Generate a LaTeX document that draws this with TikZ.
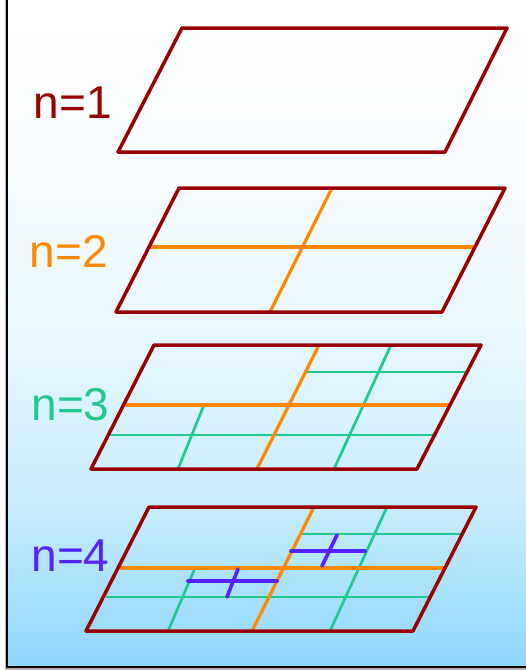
\documentclass[tikz,border=0pt]{standalone}
\usepackage{fontspec}
\setmainfont{Liberation Sans}
\definecolor{frameRed}{RGB}{153,0,0}
\definecolor{gridOrange}{RGB}{255,136,0}
\definecolor{gridGreen}{RGB}{34,200,143}
\definecolor{gridBlue}{RGB}{85,34,255}
\pgfdeclareverticalshading{bgshade}{100bp}{rgb(0bp)=(0.56,0.84,0.98); rgb(25bp)=(0.56,0.84,0.98); rgb(37.5bp)=(0.79,0.93,0.99); rgb(50bp)=(0.91,0.97,0.995); rgb(62.5bp)=(0.975,0.99,1); rgb(75bp)=(1,1,1); rgb(100bp)=(1,1,1)}
\tikzset{
  outline/.style={draw=frameRed, line width=3.5pt, line join=round, line cap=round},
  orangeline/.style={draw=gridOrange, line width=3.2pt},
  greenline/.style={draw=gridGreen, line width=2.7pt},
  blueline/.style={draw=gridBlue, line width=3.6pt, line cap=round},
  lab/.style={font=\fontsize{46}{50}\selectfont, inner sep=0pt}
}
\begin{document}
\begin{tikzpicture}[x=1pt, y=-1pt]
\useasboundingbox (0,0) rectangle (526,670);
% background
\fill[white] (0,0) rectangle (526,670);
\shade[shading=bgshade] (7,0) rectangle (526,667);
\draw[gray!60, line width=1.2pt] (5.2,-10) -- (5.2,669) -- (540,669);
\draw[black, line width=1.2pt] (7,-10) -- (7,667) -- (540,667);

% ---------- n=1 ----------
\coordinate (a1) at (182,28);
\coordinate (b1) at (507,28);
\coordinate (c1) at (445,152);
\coordinate (d1) at (118,152);
\draw[outline] (a1) -- (b1) -- (c1) -- (d1) -- cycle;
\node[lab, text=frameRed] (l1) at (73,102.5) {n=1};

% ---------- n=2 ----------
\coordinate (a2) at (179,188);
\coordinate (b2) at (505,188);
\coordinate (c2) at (442,312);
\coordinate (d2) at (116,312);
\coordinate (h2l) at (150,247);
\coordinate (h2r) at (474,247);
\coordinate (v2t) at (332,188);
\coordinate (v2b) at (270,312);
\draw[orangeline] (h2l) -- (h2r);
\draw[orangeline] (v2t) -- (v2b);
\draw[outline] (a2) -- (b2) -- (c2) -- (d2) -- cycle;
\node[lab, text=gridOrange] (l2) at (69,251.5) {n=2};

% ---------- n=3 ----------
\coordinate (a3) at (154,345);
\coordinate (b3) at (481,345);
\coordinate (c3) at (417,469);
\coordinate (d3) at (91,469);
\coordinate (g3ul) at (307,372);
\coordinate (g3ur) at (467,372);
\coordinate (g3ll) at (109,435);
\coordinate (g3lr) at (434,435);
\coordinate (g3rt) at (391,345);
\coordinate (g3rb) at (334,469);
\coordinate (g3lt) at (204,405);
\coordinate (g3lb) at (178,469);
\coordinate (h3l) at (125,405);
\coordinate (h3r) at (449,405);
\coordinate (v3t) at (319,345);
\coordinate (v3b) at (257,469);
\draw[greenline] (g3ul) -- (g3ur);
\draw[greenline] (g3ll) -- (g3lr);
\draw[greenline] (g3rt) -- (g3rb);
\draw[greenline] (g3lt) -- (g3lb);
\draw[orangeline] (h3l) -- (h3r);
\draw[orangeline] (v3t) -- (v3b);
\draw[outline] (a3) -- (b3) -- (c3) -- (d3) -- cycle;
\node[lab, text=gridGreen] (l3) at (70.5,404.5) {n=3};

% ---------- n=4 ----------
\coordinate (a4) at (149,507);
\coordinate (b4) at (476,507);
\coordinate (c4) at (413,631);
\coordinate (d4) at (86,631);
\coordinate (g4ul) at (302,534);
\coordinate (g4ur) at (462,534);
\coordinate (g4ll) at (106,597);
\coordinate (g4lr) at (429,597);
\coordinate (g4rt) at (387,507);
\coordinate (g4rb) at (330,631);
\coordinate (g4lt) at (195,568);
\coordinate (g4lb) at (168,631);
\coordinate (h4l) at (120,568);
\coordinate (h4r) at (444,568);
\coordinate (v4t) at (314,507);
\coordinate (v4b) at (252,631);
\coordinate (bu1) at (291,551);
\coordinate (bu2) at (365,551);
\coordinate (bu3) at (337,535);
\coordinate (bu4) at (322,566);
\coordinate (bl1) at (188,581);
\coordinate (bl2) at (277,581);
\coordinate (bl3) at (238,569);
\coordinate (bl4) at (227,597);
\draw[greenline] (g4ul) -- (g4ur);
\draw[greenline] (g4ll) -- (g4lr);
\draw[greenline] (g4rt) -- (g4rb);
\draw[greenline] (g4lt) -- (g4lb);
\draw[orangeline] (h4l) -- (h4r);
\draw[orangeline] (v4t) -- (v4b);
\draw[blueline] (bu1) -- (bu2);
\draw[blueline] (bu3) -- (bu4);
\draw[blueline] (bl1) -- (bl2);
\draw[blueline] (bl3) -- (bl4);
\draw[outline] (a4) -- (b4) -- (c4) -- (d4) -- cycle;
\node[lab, text=gridBlue] (l4) at (70.5,555.5) {n=4};
\end{tikzpicture}
\end{document}
